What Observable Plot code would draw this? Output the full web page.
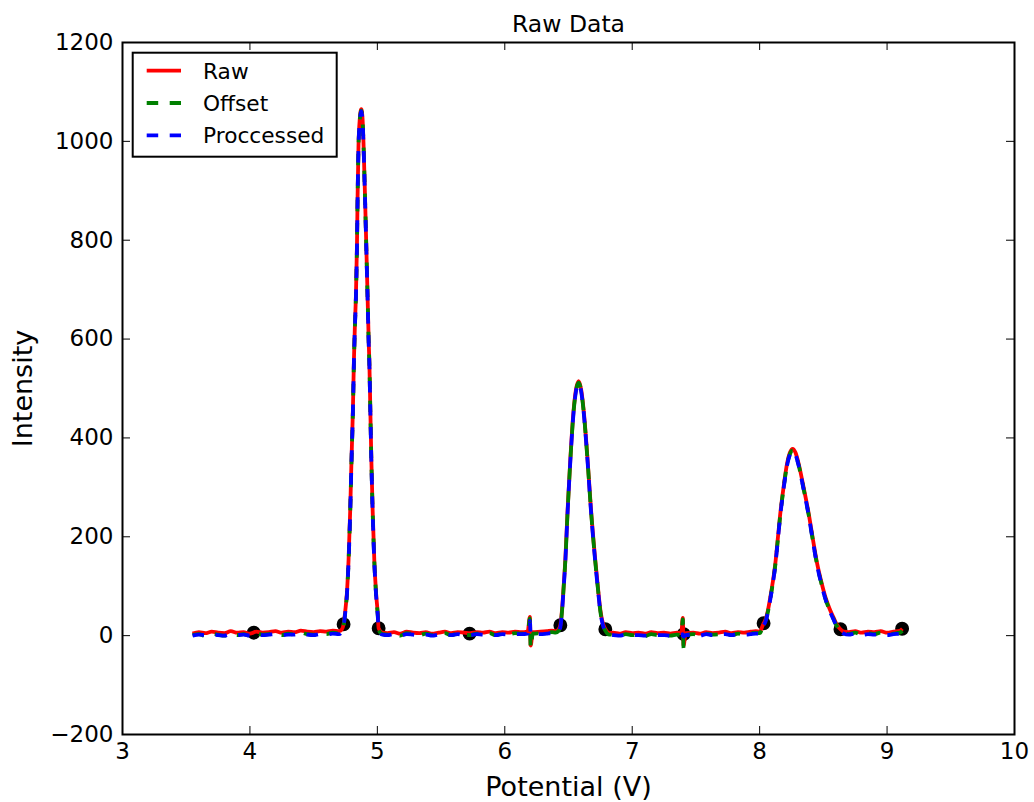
<!DOCTYPE html>
<html><head><meta charset="utf-8">
<script src="https://cdn.jsdelivr.net/npm/d3@7"></script>
<script src="https://cdn.jsdelivr.net/npm/@observablehq/plot@0.6"></script>
<style>
body{margin:0;background:#fff;}
#wrap{position:relative;width:1034px;height:802px;}
</style></head><body><div id="wrap"></div>
<script>
const potential = [3.55,3.60,3.65,3.70,3.75,3.80,3.85,3.90,3.95,4.00,4.05,4.10,4.15,4.20,4.25,4.30,4.35,4.40,4.45,4.50,4.55,4.60,4.65,4.70,
 4.720,4.735,4.748,4.761,4.774,4.787,4.797,4.808,4.816,4.824,4.832,4.840,4.845,4.852,4.862,4.874,4.884,4.892,4.903,4.913,4.923,4.933,4.937,4.945,4.953,4.963,4.976,4.990,5.003,5.010,5.040,
 5.08,5.13,5.18,5.23,5.28,5.33,5.38,5.43,5.48,5.53,5.58,5.63,5.68,5.73,5.78,5.83,5.88,5.93,5.98,6.03,6.08,6.13,6.18,6.197,6.203,6.22,6.28,6.33,6.37,
 6.400,6.420,6.436,6.449,6.462,6.475,6.493,6.514,6.540,6.558,6.579,6.600,6.619,6.650,6.677,6.710,6.730,6.750,6.770,6.789,6.820,
 6.85,6.90,6.95,7.00,7.05,7.10,7.15,7.20,7.25,7.30,7.35,7.385,7.397,7.403,7.42,7.48,7.53,7.58,7.63,7.68,7.73,7.78,7.83,7.88,7.93,7.97,
 8.000,8.031,8.044,8.064,8.084,8.104,8.123,8.142,8.162,8.190,8.215,8.237,8.259,8.282,8.306,8.345,8.385,8.418,8.451,8.483,8.516,8.548,8.579,8.600,8.634,8.660,
 8.70,8.75,8.80,8.85,8.90,8.95,9.00,9.05,9.10,9.12];

const raw = [4,7,5,8,6,5,9,6,7,4,8,6,7,9,6,8,7,10,8,7,9,8,10,9,
 12,23,50,86,153,254,355,456,556,630,690,791,890,991,1045,1065,1045,991,890,791,690,587,557,456,355,254,153,86,45,15,6,
 5,7,4,8,6,5,7,4,6,8,5,7,6,5,7,6,8,5,7,6,8,7,9,38,-20,7,8,9,10,
 9,12,21,52,100,153,254,355,456,497,515,497,456,355,254,153,100,52,25,13,5,
 6,4,7,5,6,4,7,5,6,4,6,5,36,-20,5,6,4,7,5,6,8,5,7,6,8,9,
 8,25,31,50,78,110,146,195,247,305,348,370,378,370,348,300,247,195,146,110,78,55,37,25,13,8,
 7,9,6,8,7,9,6,8,10,14];

const offset = [1,3,-1,4,2,0,5,1,3,-1,4,2,3,5,1,4,2,6,3,2,5,3,6,4,
 9,20,47,83,150,251,352,453,553,627,687,788,887,988,1042,1062,1042,988,887,788,687,584,554,453,352,251,150,83,42,12,3,
 2,4,0,5,3,1,4,1,3,5,1,4,2,1,4,3,5,1,4,3,5,4,5,35,-25,4,5,6,7,
 6,9,18,49,97,150,251,352,453,494,512,494,453,352,251,150,97,49,22,10,2,
 2,0,3,1,2,-1,3,1,2,0,2,1,33,-25,1,3,0,4,2,3,5,1,4,2,5,5,
 5,22,28,47,75,107,143,192,244,302,345,367,375,367,345,297,244,192,143,107,75,52,34,22,10,5,
 3,6,2,5,3,6,2,4,6,10];

const processed = [0,2,1,2,1,0,3,1,2,0,3,1,2,3,1,2,2,4,2,1,3,2,4,3,
 8,19,46,82,149,250,351,452,552,626,686,787,886,987,1041,1061,1041,987,886,787,686,583,553,452,351,250,149,82,41,11,2,
 1,3,0,3,2,1,2,0,2,3,1,3,1,1,3,2,3,1,3,2,3,3,4,30,2,3,3,4,5,
 5,8,17,48,96,149,250,351,452,493,511,493,452,351,250,149,96,48,21,9,1,
 1,0,2,1,1,0,2,1,1,0,1,1,3,-2,1,2,0,3,1,2,3,1,3,2,3,4,
 4,21,27,46,74,106,142,191,243,301,344,366,374,366,344,296,243,191,142,106,74,51,33,21,9,4,
 2,4,1,3,2,4,1,3,4,8];

const markerX = [4.03, 4.735, 5.010, 5.724, 6.436, 6.789, 7.404, 8.031, 8.634, 9.118];
const markerY = [6, 23, 15, 4, 21, 13, 3, 25, 13, 14];

const xTicks = [3,4,5,6,7,8,9,10];
const yTicks = [-200,0,200,400,600,800,1000,1200];

const seriesNames = ["Raw","Offset","Proccessed"];
const seriesColors = ["red","green","blue"];
const seriesDash = [null,"11.5,11.5","11.5,11.5"];
const seriesValues = [raw, offset, processed];

const W = 1034, H = 802, mL = 122, mR = 20, mT = 42, mB = 68;
const frameW = W - mL - mR, frameH = H - mT - mB, tickLen = 8;
const fmt = d => d < 0 ? "\u2212" + (-d) : String(d);
const rows = ys => potential.map((x, i) => ({x, y: ys[i]}));

const lineMarks = seriesValues.map((vals, i) => Plot.line(rows(vals), {
  x: "x", y: "y", stroke: seriesColors[i], strokeWidth: 3.8,
  strokeDasharray: seriesDash[i] || undefined, strokeLinecap: "butt", curve: "monotone-x"
}));

const chart = Plot.plot({
  width: W, height: H, marginLeft: mL, marginRight: mR, marginTop: mT, marginBottom: mB,
  style: {fontFamily: "'DejaVu Sans', sans-serif", fontSize: "23px", background: "white", color: "black"},
  x: {domain: [3, 10]},
  y: {domain: [-200, 1200]},
  marks: [
    Plot.axisX(xTicks, {tickSize: 0, tickPadding: 8, tickFormat: fmt, label: null, fontSize: 23}),
    Plot.axisY(yTicks, {tickSize: 0, tickPadding: 9, tickFormat: fmt, label: null, fontSize: 23}),
    Plot.tickX(xTicks, {x: d => d, insetTop: frameH - tickLen, stroke: "black", strokeWidth: 1}),
    Plot.tickX(xTicks, {x: d => d, insetBottom: frameH - tickLen, stroke: "black", strokeWidth: 1}),
    Plot.tickY(yTicks, {y: d => d, insetRight: frameW - tickLen, stroke: "black", strokeWidth: 1}),
    Plot.tickY(yTicks, {y: d => d, insetLeft: frameW - tickLen, stroke: "black", strokeWidth: 1}),
    Plot.dot(markerX.map((x, i) => ({x, y: markerY[i]})), {x: "x", y: "y", r: 6.2, fill: "black", stroke: "black"}),
    ...lineMarks,
    Plot.frame({stroke: "black", strokeWidth: 2}),
    Plot.text(["Raw Data"], {text: d => d, frameAnchor: "top", dy: -18, lineAnchor: "middle", fontSize: 23.5}),
    Plot.text(["Potential (V)"], {text: d => d, frameAnchor: "bottom", dy: 53, lineAnchor: "middle", fontSize: 27}),
    Plot.text(["Intensity"], {text: d => d, frameAnchor: "left", textAnchor: "middle", dx: -99, rotate: -90, lineAnchor: "middle", fontSize: 27})
  ]
});
const wrap = document.getElementById("wrap");
wrap.appendChild(chart);

// legend (inside the axes, upper left)
const lg = d3.create("svg").attr("width", 208).attr("height", 108)
  .style("position", "absolute").style("left", "131px").style("top", "51px")
  .style("font-family", "'DejaVu Sans', sans-serif");
lg.append("rect").attr("x", 1.7).attr("y", 1.7).attr("width", 204).attr("height", 104)
  .attr("fill", "white").attr("stroke", "black").attr("stroke-width", 2);
const rowY = [19.7, 52, 84.3];
seriesNames.forEach((name, i) => {
  const ln = lg.append("line").attr("x1", 15.7).attr("x2", 50).attr("y1", rowY[i]).attr("y2", rowY[i])
    .attr("stroke", seriesColors[i]).attr("stroke-width", 3.8);
  if (seriesDash[i]) ln.attr("stroke-dasharray", seriesDash[i]);
  lg.append("text").attr("x", 72).attr("y", rowY[i] + 7.8).attr("font-size", 21.7).attr("fill", "black").text(name);
});
wrap.appendChild(lg.node());
</script></body></html>
